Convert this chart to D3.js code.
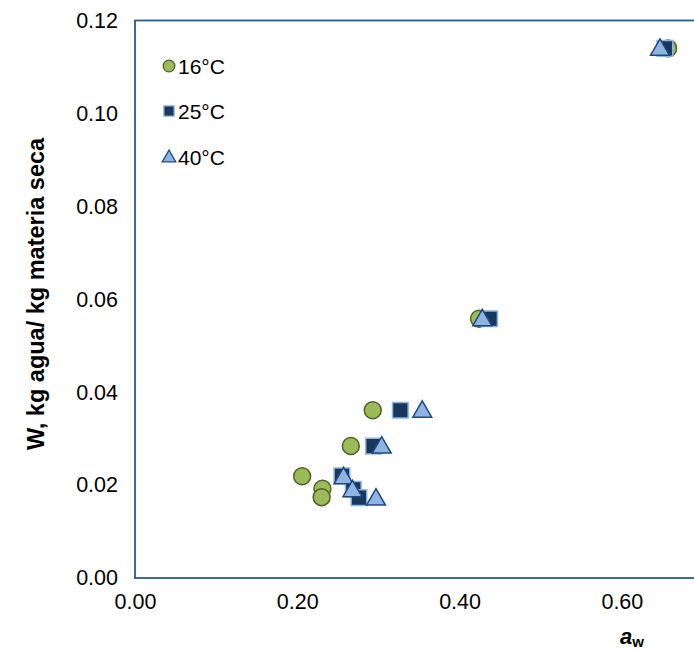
<!DOCTYPE html>
<html>
<head>
<meta charset="utf-8">
<script src="https://cdn.jsdelivr.net/npm/d3@7"></script>
<style>
  html, body { margin: 0; padding: 0; background: #fff; overflow: hidden; }
  svg { display: block; font-family: "Liberation Sans", Arial, sans-serif; }
</style>
</head>
<body>
<svg id="chart" width="694" height="654"></svg>
<script>
// Sorption isotherm data: water activity (aw) vs moisture content W
const seriesNames = ["16°C", "25°C", "40°C"];
const aw16 = [0.206, 0.231, 0.230, 0.266, 0.293, 0.424, 0.657];
const w16  = [0.0219, 0.0192, 0.0174, 0.0284, 0.0361, 0.0558, 0.1140];
const aw25 = [0.255, 0.269, 0.276, 0.294, 0.327, 0.437, 0.653];
const w25  = [0.0220, 0.0191, 0.0173, 0.0284, 0.0361, 0.0558, 0.1140];
const aw40 = [0.257, 0.268, 0.297, 0.304, 0.354, 0.428, 0.647];
const w40  = [0.0218, 0.0190, 0.0172, 0.0284, 0.0361, 0.0558, 0.1140];
const xTicks = [0.00, 0.20, 0.40, 0.60];
const yTicks = [0.00, 0.02, 0.04, 0.06, 0.08, 0.10, 0.12];

const svg = d3.select("#chart");
const plotLeft = 135, plotTop = 20.5, plotBottom = 578, plotRight = 703;

const x = d3.scaleLinear().domain([0, 0.70]).range([plotLeft, plotRight]);
const y = d3.scaleLinear().domain([0, 0.12]).range([plotBottom, plotTop]);

// Axes: labels only, no tick marks
const xAxis = d3.axisBottom(x).tickValues(xTicks).tickFormat(d3.format(".2f")).tickSize(0).tickPadding(16);
const yAxis = d3.axisLeft(y).tickValues(yTicks).tickFormat(d3.format(".2f")).tickSize(0).tickPadding(17);

const gx = svg.append("g").attr("transform", `translate(0,${plotBottom})`).call(xAxis);
const gy = svg.append("g").attr("transform", `translate(${plotLeft},0)`).call(yAxis);
[gx, gy].forEach(g => {
  g.select(".domain").remove();
  g.selectAll("text").attr("font-size", 21.5).attr("fill", "#000")
    .attr("font-family", "'Liberation Sans', Arial, sans-serif");
});

// Plot frame
svg.append("rect")
  .attr("x", plotLeft).attr("y", plotTop)
  .attr("width", plotRight - plotLeft).attr("height", plotBottom - plotTop)
  .attr("fill", "none").attr("stroke", "#2f5a8c").attr("stroke-width", 1.8);

// Marker styles per series
const styles = [
  { shape: d3.symbolCircle,   size: 225, fill: "#9bbb59", stroke: "#4f6228" },
  { shape: d3.symbolSquare,   size: 245, fill: "#17375e", stroke: "#8eb4e3" },
  { shape: d3.symbolTriangle, size: 155, fill: "#8eb4e3", stroke: "#1f497d" }
];
const data = [
  aw16.map((a, i) => [a, w16[i]]),
  aw25.map((a, i) => [a, w25[i]]),
  aw40.map((a, i) => [a, w40[i]])
];

data.forEach((pts, s) => {
  const st = styles[s];
  svg.append("g").selectAll("path").data(pts).enter().append("path")
    .attr("d", d3.symbol().type(st.shape).size(st.size))
    .attr("transform", d => `translate(${x(d[0])},${y(d[1]) + (s === 2 ? 1.5 : 0)})`)
    .attr("fill", st.fill).attr("stroke", st.stroke).attr("stroke-width", 1.5);
});

// Legend
const legend = svg.append("g");
const legendY = [66, 111, 157];
const legendSizes = [105, 105, 80];
seriesNames.forEach((name, i) => {
  const st = styles[i];
  legend.append("path")
    .attr("d", d3.symbol().type(st.shape).size(legendSizes[i]))
    .attr("transform", `translate(169,${legendY[i] + (i === 2 ? 1 : 0)})`)
    .attr("fill", st.fill).attr("stroke", st.stroke).attr("stroke-width", 1.3);
  legend.append("text")
    .attr("x", 178).attr("y", legendY[i] + 7.5)
    .attr("font-size", 21).attr("fill", "#000")
    .text(name);
});

// Axis titles
svg.append("text")
  .attr("transform", "translate(44,294) rotate(-90)")
  .attr("text-anchor", "middle")
  .attr("font-size", 23.5).attr("font-weight", "bold").attr("fill", "#000")
  .text("W, kg agua/ kg materia seca");

const xt = svg.append("text")
  .attr("x", 620).attr("y", 644)
  .attr("font-size", 22).attr("font-weight", "bold").attr("fill", "#000");
xt.append("tspan").attr("font-style", "italic").text("a");
xt.append("tspan").attr("font-size", 15).attr("dy", 3).text("w");
</script>
</body>
</html>
